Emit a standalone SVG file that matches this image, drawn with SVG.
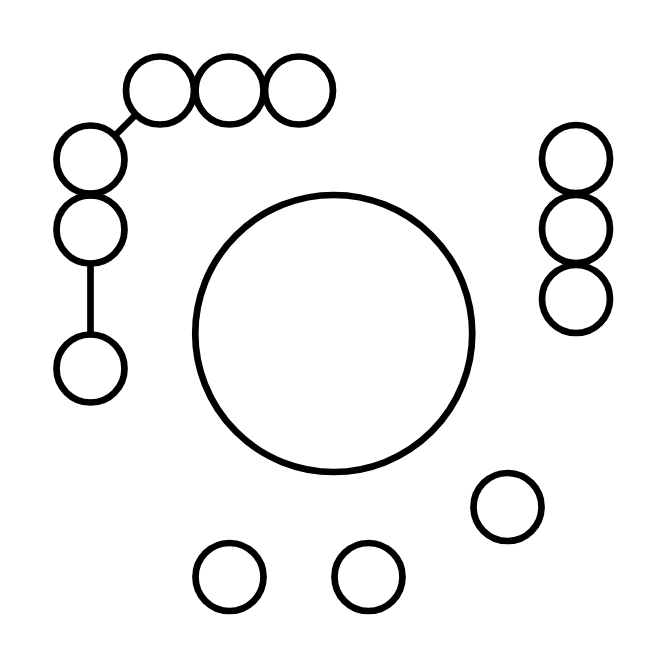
<svg xmlns="http://www.w3.org/2000/svg" width="667" height="667" viewBox="0 0 667 667">
<style>
.n{fill:none;stroke:#000;stroke-width:6.7}
.e{stroke:#000;stroke-width:6.7;fill:none}
</style>
<rect width="667" height="667" fill="#fff"/>
<g id="connectors">
<line class="e" x1="136" y1="114.5" x2="114.5" y2="136"/>
<line class="e" x1="90.5" y1="263.5" x2="90.5" y2="334.5"/>
</g>
<g id="hub"><circle class="n" cx="333.75" cy="333.5" r="138.5"/></g>
<g id="t1"><circle class="n" cx="160" cy="90.5" r="34"/></g>
<g id="t2"><circle class="n" cx="229.5" cy="90.5" r="34"/></g>
<g id="t3"><circle class="n" cx="299" cy="90.5" r="34"/></g>
<g id="l1"><circle class="n" cx="90.5" cy="159.5" r="34"/></g>
<g id="l2"><circle class="n" cx="90.5" cy="229.5" r="34"/></g>
<g id="l3"><circle class="n" cx="90.5" cy="368.5" r="34"/></g>
<g id="r1"><circle class="n" cx="576" cy="159" r="34"/></g>
<g id="r2"><circle class="n" cx="576" cy="229" r="34"/></g>
<g id="r3"><circle class="n" cx="576" cy="299" r="34"/></g>
<g id="b1"><circle class="n" cx="507.5" cy="507" r="34"/></g>
<g id="b2"><circle class="n" cx="229.5" cy="577" r="34"/></g>
<g id="b3"><circle class="n" cx="368.5" cy="577" r="34"/></g>
</svg>
